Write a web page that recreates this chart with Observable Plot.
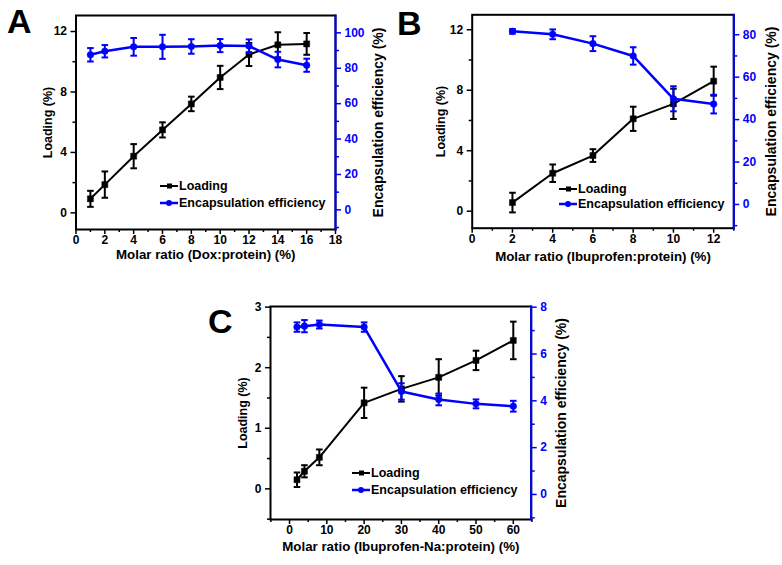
<!DOCTYPE html>
<html>
<head>
<meta charset="utf-8">
<script src="https://cdn.jsdelivr.net/npm/d3@7"></script>
<script src="https://cdn.jsdelivr.net/npm/@observablehq/plot@0.6"></script>
<style>
  body { margin: 0; background: #fff; font-family: "Liberation Sans", Arial, sans-serif; }
  #wrap { position: relative; width: 782px; height: 565px; overflow: hidden; background: #fff; }
  .panel { position: absolute; }
  .panel svg { position: absolute; left: 0; top: 0; }
  .letter { position: absolute; font-weight: bold; font-size: 34px; line-height: 1; color: #000; }
  .legend { position: absolute; font-weight: bold; font-size: 12.5px; color: #000; }
  .legend .row { display: flex; align-items: center; white-space: nowrap; }
  .legend svg { display: block; margin-right: 1px; }
</style>
</head>
<body>
<div id="wrap"></div>
<script>
// ---------- data ----------
const doseA = [1, 2, 4, 6, 8, 10, 12, 14, 16];
const loadA = [0.93, 1.87, 3.75, 5.49, 7.21, 8.96, 10.48, 11.12, 11.18];
const loadErrA = [0.53, 0.87, 0.8, 0.5, 0.48, 0.77, 0.76, 0.83, 0.72];
const eeA = [87.6, 89.6, 92.1, 92.1, 92.3, 92.8, 92.5, 84.9, 81.7];
const eeErrA = [3.8, 3.5, 5.0, 6.8, 4.1, 3.7, 3.8, 4.4, 3.7];

const doseB = [2, 4, 6, 8, 10, 12];
const loadB = [0.57, 2.51, 3.68, 6.11, 7.1, 8.6];
const loadErrB = [0.65, 0.58, 0.42, 0.8, 1.0, 0.96];
const eeB = [81.6, 80.2, 75.8, 70.0, 49.8, 47.3];
const eeErrB = [1.1, 2.3, 3.5, 4.1, 5.9, 4.4];

const doseC = [2, 4, 8, 20, 30, 40, 50, 60];
const loadC = [0.15, 0.29, 0.52, 1.42, 1.65, 1.84, 2.12, 2.45];
const loadErrC = [0.12, 0.1, 0.13, 0.25, 0.21, 0.3, 0.16, 0.31];
const eeC = [7.15, 7.19, 7.26, 7.15, 4.4, 4.06, 3.87, 3.77];
const eeErrC = [0.2, 0.26, 0.17, 0.2, 0.35, 0.25, 0.19, 0.23];

// ---------- tick labels ----------
const xTicksA = [0, 2, 4, 6, 8, 10, 12, 14, 16, 18];
const xMinorA = [1, 3, 5, 7, 9, 11, 13, 15, 17];
const xTicksB = [0, 2, 4, 6, 8, 10, 12];
const xMinorB = [1, 3, 5, 7, 9, 11, 13];
const xTicksC = [0, 10, 20, 30, 40, 50, 60];
const xMinorC = [-5, 5, 15, 25, 35, 45, 55, 65];
const loadTicksAB = [0, 4, 8, 12];
const loadMinorAB = [2, 6, 10];
const loadTicksC = [0, 1, 2, 3];
const loadMinorC = [-0.5, 0.5, 1.5, 2.5];
const eeTicksA = [0, 20, 40, 60, 80, 100];
const eeMinorA = [-10, 10, 30, 50, 70, 90];
const eeTicksB = [0, 20, 40, 60, 80];
const eeMinorB = [-10, 10, 30, 50, 70];
const eeTicksC = [0, 2, 4, 6, 8];
const eeMinorC = [-1, 1, 3, 5, 7];

const labelLoading = "Loading (%)";
const labelEE = "Encapsulation efficiency (%)";
const labelXA = "Molar ratio (Dox:protein) (%)";
const labelXB = "Molar ratio (Ibuprofen:protein) (%)";
const labelXC = "Molar ratio (Ibuprofen-Na:protein) (%)";
const legendNames = ["Loading", "Encapsulation efficiency"];

// ---------- drawing ----------
const BLUE = "#0000ff";
const FONT = "'Liberation Sans', Arial, Helvetica, sans-serif";
const fmt = d => String(d);
const noText = () => "";
const capSymbol = {
  draw(ctx, size) { const r = Math.sqrt(size / Math.PI); ctx.moveTo(-r, 0); ctx.lineTo(r, 0); }
};
const rows = (xs, ys, es) => xs.map((x, i) => ({x, y: ys[i], e: es[i]}));

function seriesMarks(data, color, symbol, lw, r) {
  return [
    Plot.line(data, {x: "x", y: "y", stroke: color, strokeWidth: lw}),
    Plot.ruleX(data, {x: "x", y1: d => d.y - d.e, y2: d => d.y + d.e, stroke: color, strokeWidth: 2}),
    Plot.dot(data, {x: "x", y: d => d.y + d.e, symbol: capSymbol, r: 3.3, stroke: color, strokeWidth: 2}),
    Plot.dot(data, {x: "x", y: d => d.y - d.e, symbol: capSymbol, r: 3.3, stroke: color, strokeWidth: 2}),
    Plot.dot(data, {x: "x", y: "y", symbol, r, fill: color, stroke: color, strokeWidth: 0.5})
  ];
}

const wrap = document.getElementById("wrap");

function makePanel(c) {
  const div = document.createElement("div");
  div.className = "panel";
  Object.assign(div.style, {left: c.left + "px", top: c.top + "px", width: c.width + "px", height: c.height + "px"});
  const common = {
    width: c.width, height: c.height,
    marginLeft: c.ml, marginRight: c.mr, marginTop: c.mt, marginBottom: c.mb,
    style: {fontFamily: FONT, fontWeight: "bold", fontSize: "12px", background: "transparent", overflow: "visible", color: "black"}
  };
  const loadData = rows(c.dose, c.load, c.loadErr);
  const eeData = rows(c.dose, c.ee, c.eeErr);
  const p1 = Plot.plot({
    ...common,
    x: {domain: c.xDomain},
    y: {domain: c.yDomain},
    marks: [
      Plot.axisX({ticks: c.xTicks, tickSize: 5, tickPadding: 1, strokeWidth: 1.5, tickFormat: fmt, label: null}),
      Plot.axisX({ticks: c.xMinor, tickSize: 3, strokeWidth: 1.5, tickFormat: noText, label: null}),
      Plot.axisX({ticks: [], label: c.xLabel, labelAnchor: "center", labelArrow: "none", labelOffset: c.xlo, fontSize: 13.3}),
      Plot.axisY({ticks: c.yTicks, tickSize: 5, strokeWidth: 1.5, tickFormat: fmt, label: null}),
      Plot.axisY({ticks: c.yMinor, tickSize: 3, strokeWidth: 1.5, tickFormat: noText, label: null}),
      Plot.axisY({ticks: [], label: labelLoading, labelAnchor: "center", labelArrow: "none", labelOffset: c.ylo, fontSize: 12.5}),
      ...seriesMarks(loadData, "black", "square", 2, 3.4),
      Plot.frame({stroke: "black", strokeWidth: 2})
    ]
  });
  const p2 = Plot.plot({
    ...common,
    x: {domain: c.xDomain, axis: null},
    y: {domain: c.rDomain},
    marks: [
      Plot.axisY({anchor: "right", ticks: c.rTicks, tickSize: 5, strokeWidth: 1.5, stroke: BLUE, fill: BLUE, tickFormat: fmt, label: null}),
      Plot.axisY({anchor: "right", ticks: c.rMinor, tickSize: 3, strokeWidth: 1.5, stroke: BLUE, fill: BLUE, tickFormat: noText, label: null}),
      Plot.axisY({anchor: "right", ticks: [], label: labelEE, labelAnchor: "center", labelArrow: "none", labelOffset: c.rlo, fontSize: 14, fill: "black"}),
      ...seriesMarks(eeData, BLUE, "circle", 2.5, 3.3),
      Plot.frame({anchor: "right", stroke: BLUE, strokeWidth: 2})
    ]
  });
  div.appendChild(p1);
  div.appendChild(p2);
  wrap.appendChild(div);

  const letter = document.createElement("div");
  letter.className = "letter";
  letter.textContent = c.letter;
  Object.assign(letter.style, {left: c.letterPos[0] + "px", top: c.letterPos[1] + "px"});
  wrap.appendChild(letter);

  const leg = document.createElement("div");
  leg.className = "legend";
  Object.assign(leg.style, {left: c.legPos[0] + "px", top: c.legPos[1] + "px"});
  const mk = [
    `<svg width="18" height="10"><line x1="0" y1="5" x2="18" y2="5" stroke="black" stroke-width="2"/><rect x="7" y="2.5" width="5" height="5" fill="black"/></svg>`,
    `<svg width="18" height="10"><line x1="0" y1="5" x2="18" y2="5" stroke="${BLUE}" stroke-width="2.5"/><circle cx="9" cy="5" r="3" fill="${BLUE}"/></svg>`
  ];
  legendNames.forEach((name, i) => {
    const r = document.createElement("div");
    r.className = "row";
    r.style.height = c.legRow + "px";
    r.innerHTML = mk[i] + `<span>${name}</span>`;
    leg.appendChild(r);
  });
  wrap.appendChild(leg);
}

makePanel({
  letter: "A", letterPos: [7, 3.6],
  left: 0, top: 0, width: 390, height: 270, ml: 75.5, mr: 55, mt: 15, mb: 41,
  dose: doseA, load: loadA, loadErr: loadErrA, ee: eeA, eeErr: eeErrA,
  xDomain: [0, 18], yDomain: [-1.1, 13.06], rDomain: [-11.1, 109.8],
  xTicks: xTicksA, xMinor: xMinorA, yTicks: loadTicksAB, yMinor: loadMinorAB, rTicks: eeTicksA, rMinor: eeMinorA,
  xLabel: labelXA, xlo: 29.8, ylo: 33, rlo: 47,
  legPos: [160, 177], legRow: 17
});
makePanel({
  letter: "B", letterPos: [397, 5.6],
  left: 390, top: 0, width: 392, height: 270, ml: 81.7, mr: 48.7, mt: 14.3, mb: 42.3,
  dose: doseB, load: loadB, loadErr: loadErrB, ee: eeB, eeErr: eeErrB,
  xDomain: [0, 13], yDomain: [-1.125, 12.99], rDomain: [-11.2, 89.4],
  xTicks: xTicksB, xMinor: xMinorB, yTicks: loadTicksAB, yMinor: loadMinorAB, rTicks: eeTicksB, rMinor: eeMinorB,
  xLabel: labelXB, xlo: 32.5, ylo: 36, rlo: 42.5,
  legPos: [559, 181], legRow: 15.5
});
makePanel({
  letter: "C", letterPos: [208, 303.6],
  left: 190, top: 280, width: 400, height: 285, ml: 80, mr: 59.3, mt: 26, mb: 46,
  dose: doseC, load: loadC, loadErr: loadErrC, ee: eeC, eeErr: eeErrC,
  xDomain: [-5.1, 64.8], yDomain: [-0.506, 3.01], rDomain: [-1.07, 8.03],
  xTicks: xTicksC, xMinor: xMinorC, yTicks: loadTicksC, yMinor: loadMinorC, rTicks: eeTicksC, rMinor: eeMinorC,
  xLabel: labelXC, xlo: 31, ylo: 32.5, rlo: 35,
  legPos: [352, 465], legRow: 16.5
});
</script>
</body>
</html>
